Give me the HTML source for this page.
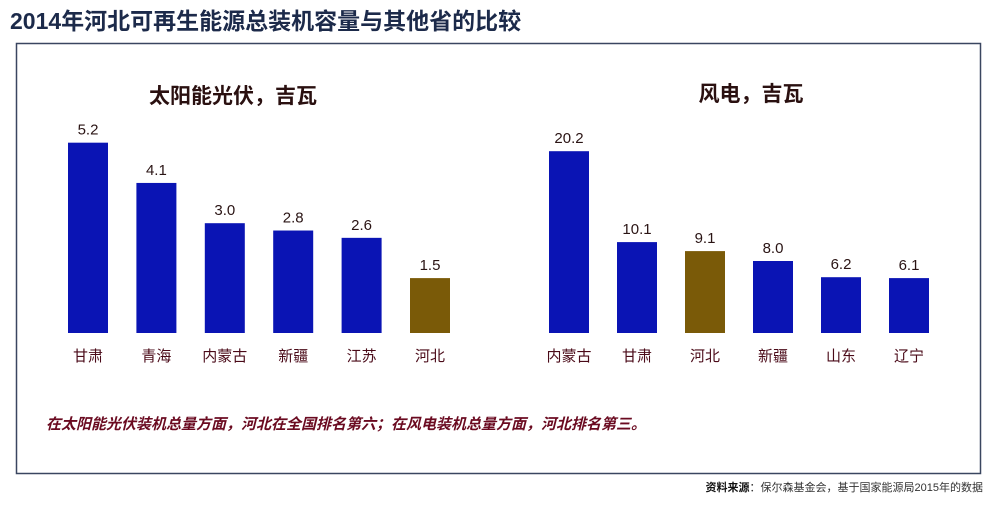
<!DOCTYPE html>
<html><head><meta charset="utf-8"><style>
body{margin:0;width:1000px;height:503px;background:#fff;overflow:hidden;font-family:"Liberation Sans","Noto Sans CJK SC",sans-serif;}
svg text{font-family:"Liberation Sans","Noto Sans CJK SC",sans-serif;}
</style></head><body>
<svg id="c" width="1000" height="503">
<text x="10" y="29" font-size="23" font-weight="bold" fill="#1c2a4a">2014年河北可再生能源总装机容量与其他省的比较</text>
<rect x="16.5" y="43.5" width="964" height="430" fill="none" stroke="#3a4660" stroke-width="1.5"/>
<text x="233" y="103" font-size="21" font-weight="bold" fill="#2a1010" text-anchor="middle">太阳能光伏，吉瓦</text>
<text x="751" y="101" font-size="21" font-weight="bold" fill="#2a1010" text-anchor="middle">风电，吉瓦</text>
<g id="solar"></g>
<g id="wind"></g>
<text x="46" y="429" font-size="15" font-weight="bold" font-style="italic" fill="#6a0a20">在太阳能光伏装机总量方面，河北在全国排名第六；在风电装机总量方面，河北排名第三。</text>
<text x="983" y="491" font-size="11" fill="#333" text-anchor="end"><tspan font-weight="bold" fill="#111">资料来源</tspan>：保尔森基金会，基于国家能源局2015年的数据</text>
</svg>
<script>
const solarCats=["甘肃","青海","内蒙古","新疆","江苏","河北"];
const solarVals=[5.2,4.1,3.0,2.8,2.6,1.5];
const windCats=["内蒙古","甘肃","河北","新疆","山东","辽宁"];
const windVals=[20.2,10.1,9.1,8.0,6.2,6.1];
const NS="http://www.w3.org/2000/svg";
const base=333;
function draw(gid,cats,vals,x0,step,scale,prefix){
  const g=document.getElementById(gid);
  cats.forEach((c,i)=>{
    const x=x0+i*step, h=vals[i]*scale, hb=c==="河北";
    const r=document.createElementNS(NS,"rect");
    r.setAttribute("x",x);r.setAttribute("y",base-h);r.setAttribute("width",40);r.setAttribute("height",h);
    r.setAttribute("fill",hb?"#7a5a08":"#0a14b4");
    
    
    g.appendChild(r);
    const v=document.createElementNS(NS,"text");
    v.setAttribute("x",x+20);v.setAttribute("y",base-h-8);v.setAttribute("text-anchor","middle");
    v.setAttribute("font-size","15");v.setAttribute("fill","#2a1414");v.textContent=vals[i].toFixed(1);
    
    
    g.appendChild(v);
    const l=document.createElementNS(NS,"text");
    l.setAttribute("x",x+20);l.setAttribute("y",361);l.setAttribute("text-anchor","middle");
    l.setAttribute("font-size","15");l.setAttribute("fill","#4a0a18");l.textContent=c;
    
    
    g.appendChild(l);
  });
}
draw("solar",solarCats,solarVals,68,68.4,36.6,"solar");
draw("wind",windCats,windVals,549,68,9.0,"wind");
</script>
</body></html>
